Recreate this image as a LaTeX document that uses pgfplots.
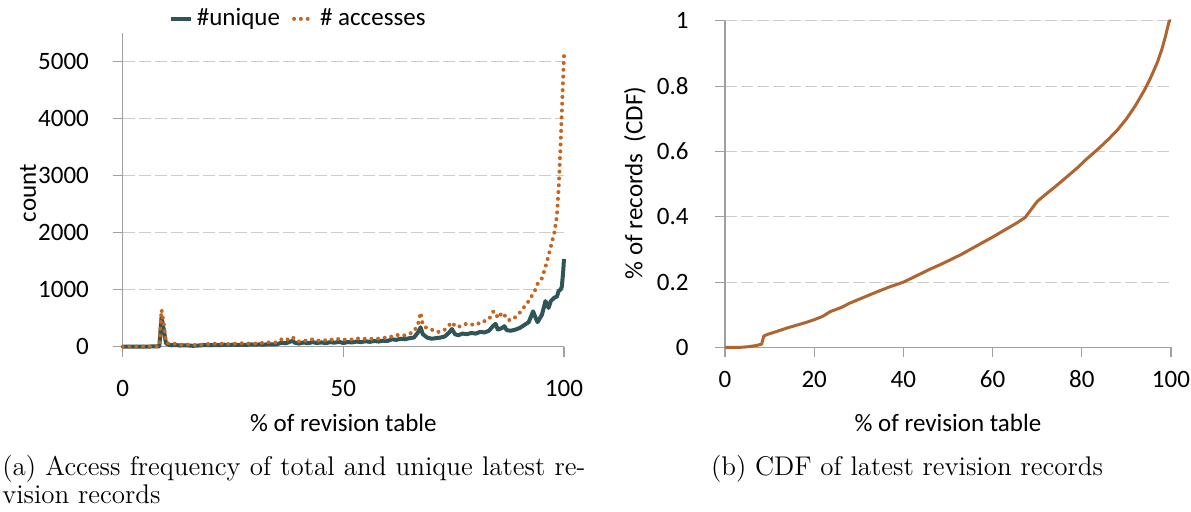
\documentclass[border=0pt]{standalone}
\usepackage{pgfplots}
\usepackage{pgfplotstable}
\pgfplotsset{compat=1.18}
\usepackage{fontspec}
\newfontfamily\calibri{Carlito}
\definecolor{uniq}{HTML}{2F5558}
\definecolor{acc}{HTML}{C5661F}
\definecolor{cdf}{HTML}{B06430}
\definecolor{gridc}{HTML}{CCCCCC}
\definecolor{axc}{HTML}{A0A0A0}

\pgfplotstableread{
x u a
0 0 0
2 2 2
4 2 2
6 3 3
8.3 5 5
8.8 520 650
9.3 300 400
9.8 60 80
10.5 30 50
11 25 40
12 30 55
13 20 30
14 25 45
15 20 35
16 15 25
17 20 40
18 25 35
19 30 50
20 25 40
21 30 55
22 25 45
23 35 60
24 30 45
25 35 55
26 30 50
27 35 60
28 30 45
29 40 65
30 35 55
31 40 60
32 35 70
33 45 75
34 40 65
35 45 80
36 70 130
37 60 110
38 90 160
38.5 100 170
39 70 120
40 55 90
41 75 110
42 60 100
43 80 130
44 65 100
45 75 120
46 60 110
47 80 130
48 70 110
49 85 140
50 65 120
51 80 130
52 75 125
53 90 150
54 80 130
55 95 140
56 85 130
57 100 150
58 90 140
59 105 160
60 100 150
61 130 180
62 120 210
63 140 190
64 130 200
65 150 230
66 160 260
67 260 420
67.5 340 600
68 220 380
69 160 320
70 140 300
71 150 260
72 160 260
73 180 300
74 250 380
74.6 310 430
75.3 220 360
76 200 340
77 230 390
78 220 400
79 240 380
80 230 420
81 260 400
82 250 450
83 280 480
84 370 620
84.5 400 600
85 300 500
86 330 600
86.5 360 560
87 290 480
88 280 460
89 300 520
90 330 600
91 380 700
92 430 800
93 620 930
93.5 520 1000
94 430 1100
95 560 1200
95.8 800 1400
96.5 680 1600
97 800 1750
97.8 860 2000
98.4 880 2300
98.8 980 2800
99.2 1000 3500
99.5 1050 4100
99.8 1300 4700
100 1540 5100
}\leftdata

\pgfplotstableread{
x c
0 0
3 0
5 0.002
7 0.006
8.2 0.010
8.7 0.035
9.5 0.040
11.8 0.050
14 0.060
16 0.068
18 0.076
20 0.085
22 0.096
23.6 0.110
26 0.122
28 0.136
31 0.153
34 0.170
37 0.186
40 0.200
43 0.220
46 0.240
48 0.252
50 0.265
53 0.285
56 0.308
60 0.338
63 0.362
65.5 0.382
67.3 0.398
68.5 0.420
70 0.447
72 0.470
74 0.492
76.6 0.522
79 0.550
81 0.576
84 0.612
86 0.638
88 0.666
90 0.700
92 0.740
94 0.787
95.5 0.828
97 0.875
98 0.915
98.8 0.955
99.6 1.0
100 1.0
}\cdfdata

\pgfplotsset{
 excel/.style={
  scale only axis, clip=false,
  axis x line*=bottom, axis y line*=left,
  axis line style={axc, line width=0.6pt, -},
  every tick/.style={axc, line width=0.6pt},
  tick align=outside, major tick length=5pt,
  ymajorgrids, grid style={gridc, line width=0.6pt, dash pattern=on 6pt off 2pt},
  tick label style={font=\calibri\fontsize{12.5}{14}\selectfont, /pgf/number format/assume math mode=true},
  label style={font=\calibri\fontsize{12.5}{14}\selectfont},
  /pgf/number format/1000 sep={},
  scaled y ticks=false, scaled x ticks=false,
  xticklabel style={anchor=base, inner sep=0pt},
  yticklabel style={anchor=east, inner sep=0pt},
  xlabel style={anchor=center},
  ylabel style={anchor=center},
 }
}

\begin{document}
\begin{tikzpicture}
\useasboundingbox (0,0) rectangle (595.5pt,256pt);
\begin{axis}[excel,
  at={(61.35pt,82.65pt)}, anchor=south west,
  width=220.65pt, height=156.7pt,
  xmin=0, xmax=100, ymin=0, ymax=5500,
  xtick={0,50,100}, ytick={0,1000,2000,3000,4000,5000},
  xticklabel style={yshift=-19.9pt},
  yticklabel style={xshift=-11.7pt},
  xlabel={\% of revision table},
  xlabel style={at={(axis description cs:0.5,-0.2438)}},
  ylabel={count},
  ylabel style={at={(axis description cs:-0.2145,0.49)}},
  legend style={at={(axis description cs:0.40,1.046)}, anchor=center, draw=none, fill=none,
    legend columns=-1, font=\calibri\fontsize{12.5}{14}\selectfont, inner sep=0pt,
    /tikz/every even column/.append style={column sep=4pt}},
  legend image code/.code={\draw[#1] (0pt,0pt) -- (10pt,0pt);},
]
\addplot[uniq, line width=2pt, line join=round] table[x=x, y=u] {\leftdata};
\addlegendentry{\#unique}
\addplot[acc, line width=2pt, line cap=round, dash pattern=on 0pt off 3.4pt] table[x=x, y=a] {\leftdata};
\addlegendentry{\# accesses}
\end{axis}

\begin{axis}[excel,
  at={(362.5pt,82.25pt)}, anchor=south west,
  width=223pt, height=163.3pt,
  xmin=0, xmax=100, ymin=0, ymax=1,
  xtick={0,20,40,60,80,100}, ytick={0,0.2,0.4,0.6,0.8,1},
  yticklabels={0,0.2,0.4,0.6,0.8,1},
  xticklabel style={yshift=-14.9pt},
  yticklabel style={xshift=-13pt},
  xlabel={\% of revision table},
  xlabel style={at={(axis description cs:0.5,-0.2312)}},
  ylabel={\% of records\ \ (CDF)},
  ylabel style={at={(axis description cs:-0.2018,0.504)}},
]
\addplot[cdf, line width=1.5pt, line join=round] table[x=x, y=c] {\cdfdata};
\end{axis}

\node[anchor=base west, inner sep=0pt, font=\fontsize{13.5}{15}\selectfont] at (1pt,18pt)
  {\hbox to 291.5pt{(a) Access frequency of total and unique latest re-}};
\node[anchor=base west, inner sep=0pt, font=\fontsize{13.5}{15}\selectfont] at (1pt,4.35pt)
  {vision records};
\node[anchor=base, inner sep=0pt, font=\fontsize{13.5}{15}\selectfont] at (453.5pt,18pt)
  {(b) CDF of latest revision records};
\end{tikzpicture}
\end{document}
